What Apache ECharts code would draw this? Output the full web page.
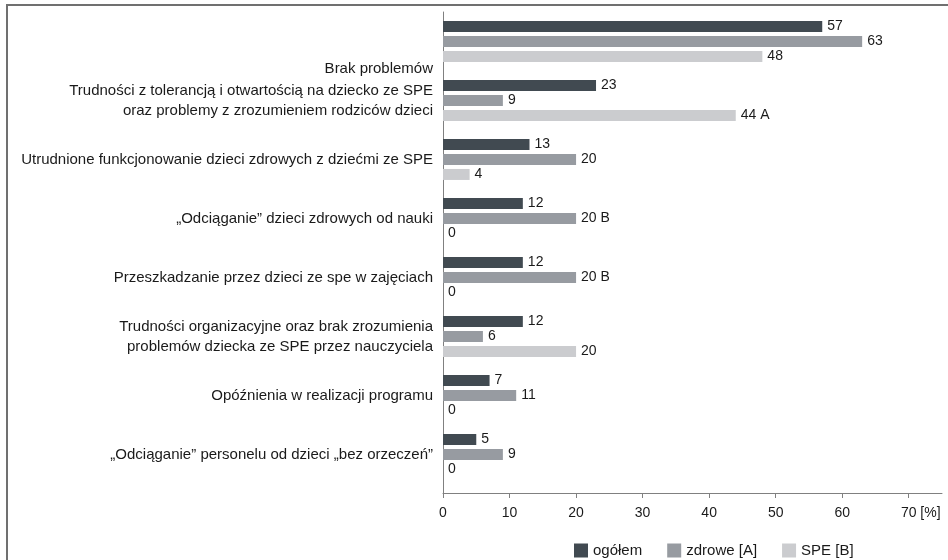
<!DOCTYPE html>
<html lang="pl">
<head>
  <meta charset="utf-8">
  <title>Problemy w klasach integracyjnych</title>
  <script src="https://cdn.jsdelivr.net/npm/echarts@6/dist/echarts.min.js"></script>
  <style>
    body { margin: 0; background: white; }
    #chart { width: 948px; height: 560px; }
  </style>
</head>
<body>
  <div id="chart"></div>
  <script>
    // --- Data.

    const CATEGORIES = [
      'Brak problemów',
      'Trudności z tolerancją i otwartością na dziecko ze SPE\noraz problemy z zrozumieniem rodziców dzieci',
      'Utrudnione funkcjonowanie dzieci zdrowych z dziećmi ze SPE',
      '„Odciąganie” dzieci zdrowych od nauki',
      'Przeszkadzanie przez dzieci ze spe w zajęciach',
      'Trudności organizacyjne oraz brak zrozumienia\nproblemów dziecka ze SPE przez nauczyciela',
      'Opóźnienia w realizacji programu',
      '„Odciąganie” personelu od dzieci „bez orzeczeń”'
    ];

    const SERIES_NAMES = ['ogółem', 'zdrowe [A]', 'SPE [B]'];

    const OGOLEM = [57, 23, 13, 12, 12, 12, 7, 5];
    const ZDROWE = [63, 9, 20, 20, 20, 6, 11, 9];
    const SPE = [48, 44, 4, 0, 0, 20, 0, 0];

    // Significance letters printed after some values.
    const OGOLEM_MARKS = ['', '', '', '', '', '', '', ''];
    const ZDROWE_MARKS = ['', '', '', 'B', 'B', '', '', ''];
    const SPE_MARKS = ['', 'A', '', '', '', '', '', ''];

    const TICKS = [0, 10, 20, 30, 40, 50, 60, 70];

    // --- Styles.

    const COLORS = ['#414a51', '#979ba1', '#cbcccf'];
    const FONT = "'Liberation Sans', Arial, sans-serif";
    const TEXT = '#1a1a1a';

    function makeSeries(name, values, marks, color) {
      return {
        name: name,
        type: 'bar',
        data: values,
        barWidth: 11,
        barGap: '36%',
        itemStyle: { color: color },
        label: {
          show: true,
          position: 'right',
          distance: 5,
          fontFamily: FONT,
          fontSize: 14,
          color: TEXT,
          formatter: p => marks[p.dataIndex] ? p.value + ' ' + marks[p.dataIndex] : String(p.value)
        }
      };
    }

    const chart = echarts.init(document.getElementById('chart'));

    chart.setOption({
      animation: false,
      backgroundColor: '#fff',
      textStyle: { fontFamily: FONT },
      grid: { left: 443, right: 6, top: 12, bottom: 76, containLabel: false },
      legend: {
        data: SERIES_NAMES,
        left: 569,
        top: 538,
        itemWidth: 14,
        itemHeight: 14,
        itemGap: 25,
        icon: 'rect',
        textStyle: { fontFamily: FONT, fontSize: 15, color: TEXT }
      },
      xAxis: {
        type: 'value',
        min: 0,
        max: 75,
        interval: 10,
        offset: 9,
        axisLine: { show: true, lineStyle: { color: '#808080' } },
        axisTick: { show: true, length: 5, customValues: TICKS, lineStyle: { color: '#808080' } },
        splitLine: { show: false },
        axisLabel: {
          customValues: TICKS,
          margin: 13,
          fontFamily: FONT,
          fontSize: 14,
          color: TEXT,
          // Keep "70" centred on its tick, the unit hangs off to the right.
          formatter: v => v === 70 ? '{p|}{n|70}{u| [%]}' : String(v),
          rich: {
            p: { width: 24 },
            n: { fontFamily: FONT, fontSize: 14, color: TEXT },
            u: { fontFamily: FONT, fontSize: 14, color: TEXT }
          }
        }
      },
      yAxis: {
        type: 'category',
        inverse: true,
        data: CATEGORIES,
        axisLine: { show: true, lineStyle: { color: '#808080' } },
        axisTick: { show: false },
        axisLabel: {
          margin: 10,
          fontFamily: FONT,
          fontSize: 15,
          lineHeight: 20,
          color: TEXT,
          align: 'right',
          // The first label sits lower than its bars in the original.
          formatter: (v, i) => i === 0 ? '{pad|}\n{t|' + v + '}' : v,
          rich: {
            pad: { lineHeight: 54 },
            t: { fontFamily: FONT, fontSize: 15, lineHeight: 20, color: TEXT }
          }
        }
      },
      series: [
        makeSeries(SERIES_NAMES[0], OGOLEM, OGOLEM_MARKS, COLORS[0]),
        makeSeries(SERIES_NAMES[1], ZDROWE, ZDROWE_MARKS, COLORS[1]),
        makeSeries(SERIES_NAMES[2], SPE, SPE_MARKS, COLORS[2])
      ]
    });

    // Frame around the picture and the short piece of the value axis line
    // that reaches down to the offset category axis.
    const x0 = chart.convertToPixel({ xAxisIndex: 0 }, 0);
    const gridBottom = 560 - 76;
    chart.setOption({
      graphic: [
        {
          type: 'polyline',
          shape: { points: [[7, 560], [7, 5], [948, 5]] },
          style: { stroke: '#707070', lineWidth: 2, fill: null }
        },
        {
          type: 'line',
          shape: { x1: x0 + 0.5, y1: gridBottom, x2: x0 + 0.5, y2: gridBottom + 9 },
          style: { stroke: '#808080', lineWidth: 1 }
        }
      ]
    });
  </script>
</body>
</html>
